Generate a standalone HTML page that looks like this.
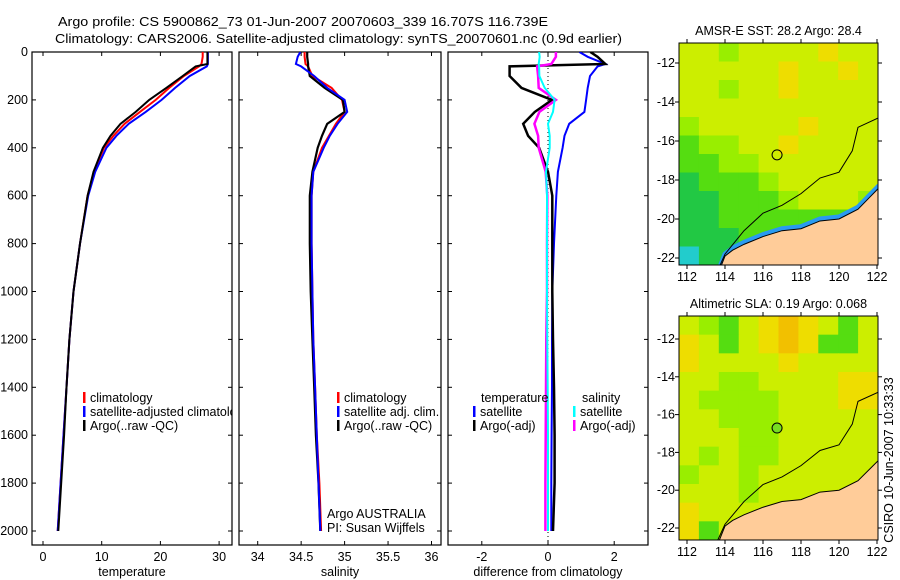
<!DOCTYPE html>
<html><head><meta charset="utf-8"><style>
body{margin:0;background:#fff}
svg{display:block;font-family:"Liberation Sans",sans-serif}
text{font-size:12.5px;fill:#000}
</style></head><body>
<svg id="fig" width="900" height="580" viewBox="0 0 900 580" xmlns="http://www.w3.org/2000/svg">
<rect width="900" height="580" fill="#fff"/>
<text x="58" y="26" textLength="490" lengthAdjust="spacingAndGlyphs">Argo profile: CS 5900862_73 01-Jun-2007 20070603_339 16.707S 116.739E</text>
<text x="55" y="43" textLength="567" lengthAdjust="spacingAndGlyphs">Climatology: CARS2006. Satellite-adjusted climatology: synTS_20070601.nc (0.9d earlier)</text>
<g id="plots"></g>
<g id="maps"></g>
<text transform="translate(893,460) rotate(-90)" text-anchor="middle">CSIRO 10-Jun-2007 10:33:33</text>
</svg>
<script>
// ---- profile data ----
const depths = [0,20,50,60,100,150,200,250,300,350,400,500,600,800,1000,1200,1400,1600,1800,2000];
const tempClim = [27.2,27.2,27.0,26.6,24,21.5,19.2,16.5,13.9,12,10.4,8.7,7.6,6.3,5.2,4.5,4.0,3.5,3.0,2.5];
const tempSat  = [28.1,28.1,28.1,27.9,25,22.5,20.2,17.5,14.6,12.5,10.8,8.9,7.7,6.3,5.2,4.5,4.0,3.5,3.0,2.5];
const tempArgo = [28.0,28.0,28.0,26.0,23.8,21,18.1,15.8,13.2,11.5,10.2,8.6,7.6,6.3,5.2,4.5,4.0,3.6,3.1,2.6];
const salClim  = [34.54,34.54,34.55,34.58,34.63,34.85,34.97,35.0,34.9,34.82,34.74,34.64,34.62,34.62,34.63,34.64,34.66,34.68,34.71,34.73];
const salSat   = [34.49,34.46,34.44,34.5,34.65,34.80,35.0,35.03,34.92,34.83,34.76,34.64,34.62,34.62,34.63,34.64,34.66,34.68,34.70,34.72];
const salArgo  = [34.57,34.57,34.58,34.58,34.6,34.77,34.98,35.0,34.8,34.74,34.69,34.63,34.6,34.6,34.61,34.63,34.65,34.67,34.70,34.72];
const dTempSat  = [0.95,1.2,1.73,1.5,1.27,1.2,1.15,1.1,0.64,0.5,0.44,0.3,0.25,0.18,0.13,0.12,0.12,0.11,0.1,0.1];
const dTempArgo = [1.28,1.5,1.73,-1.16,-1.16,-0.8,0.12,-0.4,-0.75,-0.6,-0.27,0,0.13,0.13,0.13,0.15,0.18,0.2,0.2,0.15];
const dSalSat   = [-0.27,-0.25,-0.28,-0.27,-0.26,-0.1,0.2,0.15,0.0,0.05,0.05,-0.06,-0.03,-0.03,-0.03,-0.02,-0.01,0,0,0];
const dSalArgo  = [0.24,0.24,0.1,-0.33,-0.3,-0.28,0.24,-0.26,-0.41,-0.3,-0.28,-0.07,-0.02,-0.03,-0.03,-0.05,-0.06,-0.07,-0.08,-0.08];
const depthTicks = [0,200,400,600,800,1000,1200,1400,1600,1800,2000];
const tempTicks = [0,10,20,30];
const salTicks = [34,34.5,35,35.5,36];
const diffTicks = [-2,0,2];

const NS="http://www.w3.org/2000/svg";
function mk(tag,attrs,parent){const e=document.createElementNS(NS,tag);for(const k in attrs)e.setAttribute(k,attrs[k]);parent.appendChild(e);return e;}
const plots=document.getElementById('plots');
const yD = d => 52 + d*0.2395;
const TOP=52,BOT=545;

const panels=[
 {x0:32,x1:232,ticks:tempTicks,sx:v=>43+v*5.87,label:'temperature',name:'temperature-panel'},
 {x0:239,x1:441,ticks:salTicks,sx:v=>257.7+(v-34)*86.9,label:'salinity',name:'salinity-panel'},
 {x0:448,x1:648,ticks:diffTicks,sx:v=>548+v*33.1,label:'difference from climatology',name:'difference-panel'}
];
panels.forEach((p,i)=>{
  const g=mk('g',{},plots);
  
  
  const cid='clip'+i;
  const cp=mk('clipPath',{id:cid},g);mk('rect',{x:p.x0,y:TOP,width:p.x1-p.x0,height:BOT-TOP},cp);
  p.g=g;p.clip=cid;
  mk('rect',{x:p.x0,y:TOP,width:p.x1-p.x0,height:BOT-TOP,fill:'none',stroke:'#000','stroke-width':1.2},g);
  depthTicks.forEach(d=>{
    const y=yD(d);
    mk('line',{x1:p.x0,y1:y,x2:p.x0+4,y2:y,stroke:'#000'},g);
    mk('line',{x1:p.x1-4,y1:y,x2:p.x1,y2:y,stroke:'#000'},g);
  });
  p.ticks.forEach(v=>{
    const x=p.sx(v);
    mk('line',{x1:x,y1:BOT,x2:x,y2:BOT-4,stroke:'#000'},g);
    mk('line',{x1:x,y1:TOP,x2:x,y2:TOP+4,stroke:'#000'},g);
    const t=mk('text',{x:x,y:561,'text-anchor':'middle'},g);t.textContent=String(v);
    
    
  });
  const xl=mk('text',{x:(p.x0+p.x1)/2,y:576,'text-anchor':'middle'},g);xl.textContent=p.label;
  
  
});
depthTicks.forEach(d=>{
  const t=mk('text',{x:28,y:yD(d)+4,'text-anchor':'end'},plots);t.textContent=String(d);
  
  
});
function line(p,vals,color,w,name){
  const pts=vals.map((v,i)=>p.sx(v).toFixed(1)+','+yD(depths[i]).toFixed(1)).join(' ');
  const e=mk('polyline',{points:pts,fill:'none',stroke:color,'stroke-width':w,'clip-path':'url(#'+p.clip+')'},p.g);
  
  
}
mk('line',{x1:548,y1:TOP,x2:548,y2:BOT,stroke:'#000','stroke-dasharray':'1,3'},panels[2].g);
line(panels[0],tempClim,'#f00',2,'temp-climatology-line');
line(panels[0],tempSat,'#00f',2,'temp-satellite-line');
line(panels[0],tempArgo,'#000',2,'temp-argo-line');
line(panels[1],salClim,'#f00',2,'sal-climatology-line');
line(panels[1],salArgo,'#000',2.2,'sal-argo-line');
line(panels[1],salSat,'#00f',2,'sal-satellite-line');
line(panels[2],dTempSat,'#00f',2,'diff-temp-satellite-line');
line(panels[2],dTempArgo,'#000',2.5,'diff-temp-argo-line');
line(panels[2],dSalArgo,'#f0f',2.5,'diff-sal-argo-line');
line(panels[2],dSalSat,'#0ff',2,'diff-sal-satellite-line');

function legend(p,x,y,color,label,name){
  if(color) mk('rect',{x:x,y:y-10,width:2.5,height:11,fill:color},p.g);
  const t=mk('text',{x:x+7,y:y,'clip-path':'url(#'+p.clip+')'},p.g);t.textContent=label;
  
  
}
legend(panels[0],83,402,'#f00','climatology','legend-climatology');
legend(panels[0],83,416,'#00f','satellite-adjusted climatology','legend-satellite');
legend(panels[0],83,430,'#000','Argo(..raw -QC)','legend-argo');
legend(panels[1],337,402,'#f00','climatology','legend-climatology');
legend(panels[1],337,416,'#00f','satellite adj. clim.','legend-satellite');
legend(panels[1],337,430,'#000','Argo(..raw -QC)','legend-argo');
legend(panels[1],320,518,null,'Argo AUSTRALIA','argo-australia-label');
legend(panels[1],320,532,null,'PI: Susan Wijffels','pi-label');
legend(panels[2],474,402,null,'temperature','legend-temperature-header');
legend(panels[2],473,416,'#00f','satellite','legend-temp-satellite');
legend(panels[2],473,430,'#000','Argo(-adj)','legend-temp-argo');
legend(panels[2],575,402,null,'salinity','legend-salinity-header');
legend(panels[2],573,416,'#0ff','satellite','legend-sal-satellite');
legend(panels[2],573,430,'#f0f','Argo(-adj)','legend-sal-argo');

// ---- maps ----
const sstGrid=["yygyyyyoyy","yyyyyoyyoy","yygyyoyyyy","yyyyyyyyyy","gyyyyyoyyy","Gggyyoyyyy","GGggyyyyyy","DGGGgyyyyy","DDGGGgyyyg","DDGGGGGGGG","DDDGGGGGGG","cDDGGGGGGG"];
const slaGrid=["ygGyoOoyGy","oyGyoOoGGy","oyyyyoyyyy","yyggyyyyoo","yggggyyyoo","yygggyyyyy","yyyggyyyyy","ygyggyyyyy","gyygyyyyyy","yyygyyyyyy","oyyyyyyyyy","oGyyyyyyyy"];
const pal={y:'#ccee00',o:'#eedd00',O:'#f2c000',g:'#99ee00',G:'#55dd11',D:'#22c844',c:'#22cccc'};
const coast=[[113.6,22.9],[114,21.9],[114.4,21.6],[115,21.3],[116,20.9],[117,20.6],[118,20.5],[119,20.1],[120,20.0],[121,19.5],[121.6,18.9],[122.1,18.4],[122.1,22.9]];
const isobath=[[113.5,22.9],[114,21.8],[115,20.6],[116,19.7],[117,19.3],[118,18.7],[119,17.9],[120,17.6],[120.7,16.5],[121,15.3],[122.1,14.8]];
const maps=document.getElementById('maps');
function drawMap(top,bot,y12,ppd,grid,title,name,circleFill,blueEdge){
  const L=679,R=878;
  const lx=lon=>687+(lon-112)*19;
  const ly=lat=>y12+(lat-12)*ppd;
  const g=mk('g',{},maps);
  
  
  const cp=mk('clipPath',{id:'c'+name},g);mk('rect',{x:L,y:top,width:R-L,height:bot-top},cp);
  const inner=mk('g',{'clip-path':'url(#c'+name+')'},g);
  const cw=(R-L)/10,ch=(bot-top)/12;
  grid.forEach((row,r)=>[...row].forEach((c,k)=>mk('rect',{x:L+k*cw,y:top+r*ch,width:cw+0.5,height:ch+0.5,fill:pal[c]},inner)));
  const cpts=coast.map(p=>lx(p[0])+','+ly(p[1])).join(' ');
  if(blueEdge){
    const ep=coast.slice(0,12).map(p=>lx(p[0])+','+(ly(p[1])-2)).join(' ');
    mk('polyline',{points:ep,fill:'none',stroke:'#2a9af0','stroke-width':5},inner);
  }
  mk('polygon',{points:cpts,fill:'#ffcc99',stroke:'#000','stroke-width':1},inner);
  mk('polyline',{points:isobath.map(p=>lx(p[0])+','+ly(p[1])).join(' '),fill:'none',stroke:'#000','stroke-width':1},inner);
  const c=mk('circle',{cx:lx(116.74),cy:ly(16.71),r:5,fill:circleFill,stroke:'#000'},g);
  
  
  mk('rect',{x:L,y:top,width:R-L,height:bot-top,fill:'none',stroke:'#000'},g);
  for(let lon=112;lon<=122;lon+=2){const x=lx(lon);
    mk('line',{x1:x,y1:bot,x2:x,y2:bot+4,stroke:'#000'},g);mk('line',{x1:x,y1:top,x2:x,y2:top-4,stroke:'#000'},g);
    const t=mk('text',{x:x,y:bot+16,'text-anchor':'middle'},g);t.textContent=String(lon);
    
    }
  for(let lat=12;lat<=22;lat+=2){const y=ly(lat);
    mk('line',{x1:L,y1:y,x2:L-4,y2:y,stroke:'#000'},g);mk('line',{x1:R,y1:y,x2:R+4,y2:y,stroke:'#000'},g);
    const t=mk('text',{x:L-4,y:y+4,'text-anchor':'end'},g);t.textContent='-'+lat;
    
    }
  const tt=mk('text',{x:(L+R)/2,y:top-8,'text-anchor':'middle'},g);tt.textContent=title;
  
  
}
drawMap(43,265,63,19.5,sstGrid,'AMSR-E SST: 28.2 Argo: 28.4','sst-map','none',true);
drawMap(316,540,339,18.9,slaGrid,'Altimetric SLA: 0.19 Argo: 0.068','sla-map','#77dd22',false);
</script>
</body></html>
